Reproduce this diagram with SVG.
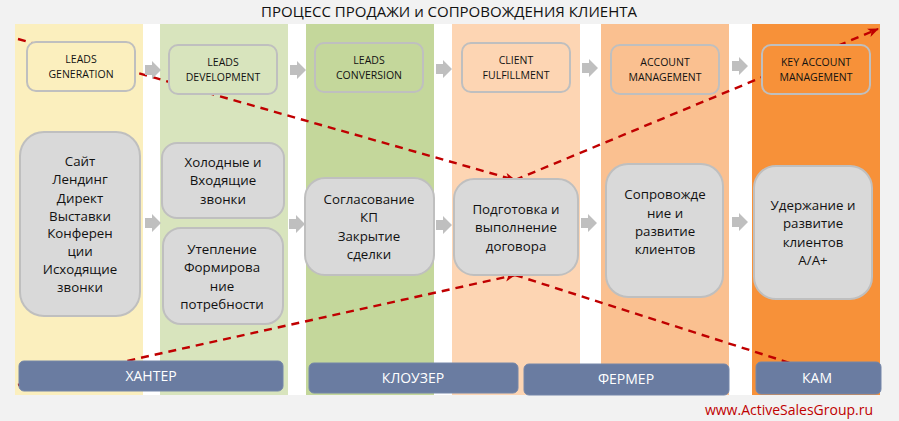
<svg xmlns="http://www.w3.org/2000/svg" width="899" height="421" viewBox="0 0 899 421">
<style>
text{font-family:"Open Sans","Noto Sans",sans-serif;text-anchor:middle;fill:#111}
.t{font-size:10.5px}
.g{font-size:13.300px}
.r{font-size:14px;fill:#fff}
.top{stroke:#bfbfbf;stroke-width:2}
.grey{fill:#d9d9d9;stroke:#bfbfbf;stroke-width:2}
.role{fill:#6a7ca1;stroke:#7486a9;stroke-width:1}
.dash{fill:none;stroke:#c00000;stroke-width:2.400;stroke-dasharray:8 6}
.arr{fill:#bfbfbf}
</style>
<defs>
<marker id="ah" markerWidth="11" markerHeight="10" refX="10" refY="5" orient="auto" markerUnits="userSpaceOnUse"><path d="M0,0.5L11,5L0,9.500L3,5Z" fill="#c00000"/></marker>
<path id="ba" d="M0,-5H7V-9L16,0L7,9V5H0Z"/>
</defs>
<rect width="899" height="421" fill="#f2f2f2"/>
<rect x="15" y="24" width="865" height="371" fill="#fff"/>
<rect x="15" y="24" width="128" height="371" fill="#fbefbe"/>
<rect x="160" y="24" width="128" height="371" fill="#d8e4bd"/>
<rect x="306" y="24" width="128" height="371" fill="#c4d79b"/>
<rect x="452" y="24" width="128" height="371" fill="#fdd5b3"/>
<rect x="601" y="24" width="128" height="371" fill="#fac090"/>
<rect x="752" y="24" width="128" height="371" fill="#f79139"/>
<text x="449" y="17" style="font-size:15px">ПРОЦЕСС ПРОДАЖИ и СОПРОВОЖДЕНИЯ КЛИЕНТА</text>
<g id="connectors">
<path class="dash" marker-end="url(#ah)" d="M18,39L515,180"/>
<path class="dash" marker-end="url(#ah)" d="M515,180L878,29"/>
<path class="dash" marker-end="url(#ah)" d="M18,385L515,275"/>
<path class="dash" d="M515,275L790,363"/>
<g class="arr">
<use href="#ba" x="145" y="70"/><use href="#ba" x="290" y="70"/><use href="#ba" x="436" y="69"/><use href="#ba" x="582" y="68"/><use href="#ba" x="732" y="66"/>
<use href="#ba" x="145" y="223"/><use href="#ba" x="289" y="224"/><use href="#ba" x="436" y="225"/><use href="#ba" x="581" y="223"/><use href="#ba" x="732" y="222"/>
</g>
</g>
<g id="n-gen"><rect class="top" x="27" y="42" width="108" height="49" rx="9" fill="#fbefbe"/><text class="t" x="81" y="63">LEADS</text><text class="t" x="81" y="78">GENERATION</text></g>
<g id="n-dev"><rect class="top" x="169" y="45" width="108" height="49" rx="9" fill="#d8e4bd"/><text class="t" x="223" y="66">LEADS</text><text class="t" x="223" y="81">DEVELOPMENT</text></g>
<g id="n-conv"><rect class="top" x="315" y="43" width="108" height="49" rx="9" fill="#c4d79b"/><text class="t" x="369" y="64">LEADS</text><text class="t" x="369" y="79">CONVERSION</text></g>
<g id="n-ful"><rect class="top" x="462" y="43" width="108" height="49" rx="9" fill="#fdd5b3"/><text class="t" x="516" y="64">CLIENT</text><text class="t" x="516" y="79">FULFILLMENT</text></g>
<g id="n-acc"><rect class="top" x="611" y="45" width="108" height="49" rx="9" fill="#fac090"/><text class="t" x="665" y="66">ACCOUNT</text><text class="t" x="665" y="81">MANAGEMENT</text></g>
<g id="n-key"><rect class="top" x="762" y="45" width="108" height="49" rx="9" fill="#f79139"/><text class="t" x="816" y="66">KEY ACCOUNT</text><text class="t" x="816" y="81">MANAGEMENT</text></g>
<g id="b1"><rect class="grey" x="20" y="132" width="120" height="184" rx="24"/>
<text class="g" x="80" y="166">Сайт</text><text class="g" x="80" y="184">Лендинг</text><text class="g" x="80" y="203">Директ</text><text class="g" x="80" y="221">Выставки</text><text class="g" x="80" y="238">Конферен</text><text class="g" x="80" y="256">ции</text><text class="g" x="80" y="274">Исходящие</text><text class="g" x="80" y="292">звонки</text></g>
<g id="b2"><rect class="grey" x="162" y="143" width="122" height="75" rx="15"/>
<text class="g" x="223" y="167">Холодные и</text><text class="g" x="223" y="185">Входящие</text><text class="g" x="223" y="204">звонки</text></g>
<g id="b3"><rect class="grey" x="163" y="228" width="120" height="96" rx="18"/>
<text class="g" x="222" y="254">Утепление</text><text class="g" x="222" y="272">Формирова</text><text class="g" x="222" y="291">ние</text><text class="g" x="222" y="309">потребности</text></g>
<g id="b4"><rect class="grey" x="305" y="178" width="129" height="97" rx="20"/>
<text class="g" x="369" y="204">Согласование</text><text class="g" x="369" y="222">КП</text><text class="g" x="369" y="241">Закрытие</text><text class="g" x="369" y="259">сделки</text></g>
<g id="b5"><rect class="grey" x="454" y="179" width="124" height="96" rx="20"/>
<text class="g" x="516" y="214">Подготовка и</text><text class="g" x="516" y="232">выполнение</text><text class="g" x="516" y="251">договора</text></g>
<g id="b6"><rect class="grey" x="606" y="164" width="117" height="133" rx="22"/>
<text class="g" x="665" y="199">Сопровожде</text><text class="g" x="665" y="218">ние и</text><text class="g" x="665" y="236">развитие</text><text class="g" x="665" y="254">клиентов</text></g>
<g id="b7"><rect class="grey" x="754" y="166" width="118" height="133" rx="22"/>
<text class="g" x="813" y="210">Удержание и</text><text class="g" x="813" y="228">развитие</text><text class="g" x="813" y="247">клиентов</text><text class="g" x="813" y="265">А/А+</text></g>
<g id="r1"><rect class="role" x="19" y="361" width="264" height="30" rx="5"/><text class="r" x="151" y="381">ХАНТЕР</text></g>
<g id="r2"><rect class="role" x="309" y="363" width="209" height="30" rx="5"/><text class="r" x="413" y="383">КЛОУЗЕР</text></g>
<g id="r3"><rect class="role" x="524" y="364" width="205" height="31" rx="5"/><text class="r" x="626" y="384">ФЕРМЕР</text></g>
<g id="r4"><rect class="role" x="756" y="362" width="125" height="32" rx="5"/><text class="r" x="817" y="383">КАМ</text></g>
<text x="789" y="415" style="font-size:14px;fill:#c00000">www.ActiveSalesGroup.ru</text>
</svg>
